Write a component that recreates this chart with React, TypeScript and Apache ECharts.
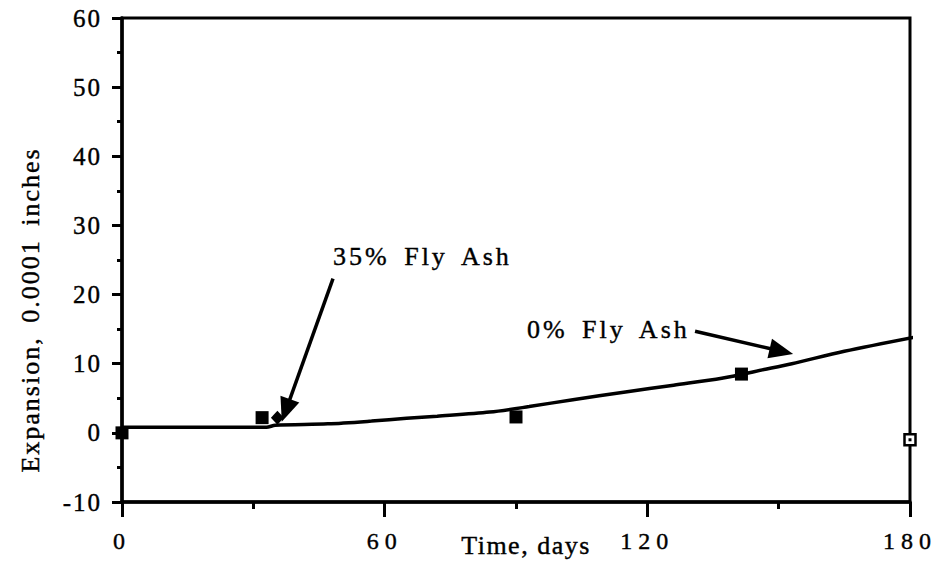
import React, { useEffect, useRef } from 'react';
import * as echarts from 'echarts';

// ---- data ----
const xTickValues = [0, 60, 120, 180];
const yTickValues = [-10, 0, 10, 20, 30, 40, 50, 60];

// fitted curve, 0% fly ash
const fitDays = [0, 33, 35, 47, 57, 65, 72, 84, 93, 103, 115, 126, 137, 147, 153, 165, 181.5];
const fitExpansion = [0.8, 0.8, 1.1, 1.3, 1.7, 2.1, 2.4, 3.0, 3.8, 4.8, 5.9, 6.9, 7.9, 9.2, 10.0, 11.8, 13.9];

// measured points
const squareDays = [0, 32, 90, 141.5];
const squareExpansion = [0, 2.2, 2.3, 8.5];
const diamondDays = [35.5];
const diamondExpansion = [2.2];
const openDays = [180];
const openExpansion = [-1.0];

// annotations (data coordinates)
const annotationTexts = ['35% Fly Ash', '0% Fly Ash'];
const annotationAt = [
  [48.2, 25.5],
  [92.5, 14.9],
];
const arrowFrom = [
  [48.2, 22.3],
  [130.9, 14.7],
];
const arrowTo = [
  [36.5, 1.6],
  [153.3, 11.4],
];

const xTitle = 'Time, days';
const yTitle = 'Expansion, 0.0001 inches';

const FONT = '"Liberation Serif", "Times New Roman", Times, serif';

const zip = (a: number[], b: number[]) => a.map((v, i) => [v, b[i]]);

export default function App() {
  const ref = useRef<HTMLDivElement>(null);

  useEffect(() => {
    const el = ref.current!;
    const chart = echarts.init(el, null, { renderer: 'svg' });

    const applySpacing = () => {
      el.querySelectorAll('text').forEach((t) => {
        const s = (t.textContent || '').trim();
        const anchor = t.getAttribute('text-anchor') || 'start';
        if (annotationTexts.includes(s)) {
          t.setAttribute('letter-spacing', '3');
          t.setAttribute('word-spacing', '5');
        } else if (s === yTitle) {
          t.setAttribute('letter-spacing', '2');
          t.setAttribute('word-spacing', '5');
        } else if (s === xTitle) {
          t.setAttribute('letter-spacing', '1.5');
        } else if (/^-?\d+$/.test(s)) {
          t.setAttribute('letter-spacing', anchor === 'middle' ? '6' : '2');
        }
      });
    };

    chart.on('finished', applySpacing);

    const labelStroke = { textBorderColor: '#000', textBorderWidth: 0.4 };

    chart.setOption({
      animation: false,
      backgroundColor: '#ffffff',
      grid: {
        left: 122,
        right: 26,
        top: 18,
        bottom: 66,
        show: true,
        borderColor: '#000',
        borderWidth: 3,
        outerBoundsMode: 'none',
      },
      xAxis: [
        {
          type: 'value',
          min: 0,
          max: 180,
          interval: 30,
          position: 'bottom',
          axisLine: { show: true, onZero: false, lineStyle: { color: '#000', width: 3.5 } },
          axisTick: { show: true, length: 7, lineStyle: { color: '#000', width: 3 } },
          axisLabel: { show: false },
          splitLine: { show: false },
        },
        {
          type: 'value',
          min: 0,
          max: 180,
          interval: 60,
          position: 'bottom',
          axisLine: { show: false, onZero: false },
          axisTick: { show: true, length: 15, lineStyle: { color: '#000', width: 3 } },
          axisLabel: {
            show: true,
            margin: 27,
            color: '#000',
            fontSize: 24,
            fontFamily: FONT,
            ...labelStroke,
            formatter: (v: number) => (xTickValues.includes(v) ? String(v) : ''),
          },
          splitLine: { show: false },
        },
      ],
      yAxis: {
        type: 'value',
        min: -10,
        max: 60,
        interval: 10,
        axisLine: { show: true, onZero: false, lineStyle: { color: '#000', width: 3.5 } },
        axisTick: { show: true, length: 10, lineStyle: { color: '#000', width: 3 } },
        minorTick: { show: true, splitNumber: 2, length: 5, lineStyle: { color: '#000', width: 3 } },
        axisLabel: {
          show: true,
          margin: 20,
          color: '#000',
          fontSize: 25,
          fontFamily: FONT,
          ...labelStroke,
          formatter: (v: number) => (yTickValues.includes(v) ? String(v) : ''),
        },
        splitLine: { show: false },
        minorSplitLine: { show: false },
      },
      series: [
        {
          name: '0% Fly Ash fit',
          type: 'line',
          data: zip(fitDays, fitExpansion),
          showSymbol: false,
          smooth: 0.3,
          clip: false,
          silent: true,
          lineStyle: { color: '#000', width: 3.5, opacity: 1 },
          z: 2,
        },
        {
          name: '0% Fly Ash',
          type: 'scatter',
          data: zip(squareDays, squareExpansion),
          symbol: 'rect',
          symbolSize: 13,
          clip: false,
          silent: true,
          itemStyle: { color: '#000', opacity: 1 },
          z: 3,
        },
        {
          name: '35% Fly Ash',
          type: 'scatter',
          data: zip(diamondDays, diamondExpansion),
          symbol: 'diamond',
          symbolSize: [13, 14],
          clip: false,
          silent: true,
          itemStyle: { color: '#000', opacity: 1 },
          z: 3,
        },
        {
          name: 'open',
          type: 'scatter',
          data: zip(openDays, openExpansion),
          symbol: 'rect',
          symbolSize: 11,
          clip: false,
          silent: true,
          itemStyle: { color: '#fff', borderColor: '#000', borderWidth: 2.5, opacity: 1 },
          z: 3,
        },
        {
          name: 'open centre',
          type: 'scatter',
          data: zip(openDays, openExpansion),
          symbol: 'rect',
          symbolSize: 3,
          clip: false,
          silent: true,
          itemStyle: { color: '#000', opacity: 1 },
          z: 4,
        },
      ],
    });

    const toPx = (p: number[]) => chart.convertToPixel({ seriesIndex: 0 }, p) as number[];
    const graphics: any[] = [];
    const textStroke = { stroke: '#000', lineWidth: 0.4 };

    annotationTexts.forEach((txt, i) => {
      const p = toPx(annotationAt[i]);
      graphics.push({
        type: 'text',
        x: p[0],
        y: p[1],
        silent: true,
        style: {
          text: txt,
          fill: '#000',
          fontSize: 26,
          fontFamily: FONT,
          align: 'left',
          verticalAlign: 'middle',
          ...textStroke,
        },
      });
      const f = toPx(arrowFrom[i]);
      const t = toPx(arrowTo[i]);
      const dx = t[0] - f[0];
      const dy = t[1] - f[1];
      const len = Math.sqrt(dx * dx + dy * dy);
      const ux = dx / len;
      const uy = dy / len;
      const headLen = 24;
      const headHalf = 10;
      const bx = t[0] - ux * headLen;
      const by = t[1] - uy * headLen;
      const nx = -uy;
      const ny = ux;
      graphics.push({
        type: 'line',
        silent: true,
        shape: { x1: f[0], y1: f[1], x2: bx + ux * 2, y2: by + uy * 2 },
        style: { stroke: '#000', lineWidth: 3.5 },
        z: 10,
      });
      graphics.push({
        type: 'polygon',
        silent: true,
        shape: {
          points: [
            [t[0], t[1]],
            [bx + nx * headHalf, by + ny * headHalf],
            [bx - nx * headHalf, by - ny * headHalf],
          ],
        },
        style: { fill: '#000' },
        z: 10,
      });
    });

    graphics.push({
      type: 'text',
      x: 526,
      y: 545,
      silent: true,
      style: {
        text: xTitle,
        fill: '#000',
        fontSize: 26,
        fontFamily: FONT,
        align: 'center',
        verticalAlign: 'middle',
        ...textStroke,
      },
    });
    graphics.push({
      type: 'text',
      x: 30,
      y: 310,
      rotation: Math.PI / 2,
      silent: true,
      style: {
        text: yTitle,
        fill: '#000',
        fontSize: 26,
        fontFamily: FONT,
        align: 'center',
        verticalAlign: 'middle',
        ...textStroke,
      },
    });

    chart.setOption({ graphic: graphics });
    applySpacing();
    const raf = requestAnimationFrame(applySpacing);

    return () => {
      cancelAnimationFrame(raf);
      chart.dispose();
    };
  }, []);

  return (
    <div
      ref={ref}
      style={{ position: 'absolute', left: 0, top: 0, width: 936, height: 568, background: '#fff' }}
    />
  );
}
